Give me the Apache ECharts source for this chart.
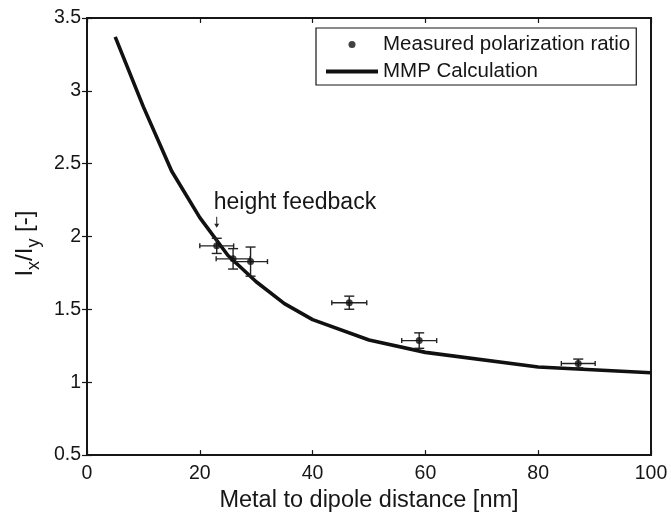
<!DOCTYPE html>
<html><head><meta charset="utf-8">
<script src="https://cdn.jsdelivr.net/npm/echarts@6/dist/echarts.min.js"></script>
<style>html,body{margin:0;padding:0;background:#fff}#c{width:671px;height:518px}</style>
</head><body><div id="c"></div>
<script>
// ---- data ----
const measName = 'Measured polarization ratio';
const calcName = 'MMP Calculation';
const measX = [23, 25.9, 29, 46.5, 58.9, 87.1];
const measY = [1.936, 1.847, 1.828, 1.546, 1.286, 1.129];
const measXErr = [3, 3, 3, 3.1, 3.1, 3];
const measYErr = [0.052, 0.07, 0.1, 0.045, 0.053, 0.03];
const calcX = [5, 10, 15, 20, 25, 30, 35, 40, 50, 60, 80, 100];
const calcY = [3.37, 2.89, 2.45, 2.13, 1.87, 1.69, 1.54, 1.43, 1.29, 1.205, 1.105, 1.065];
const annotText = 'height feedback';
const annotX = [23];
const annotY = [2.06];
const xTickVals = [0, 20, 40, 60, 80, 100];
const yTickVals = [0.5, 1, 1.5, 2, 2.5, 3, 3.5];

const FONT = '"Liberation Sans", Arial, Helvetica, sans-serif';
const INK = '#161616';
const chart = echarts.init(document.getElementById('c'), null, {renderer: 'canvas'});

function tickAxisCommon(min, max, interval) {
  return {
    type: 'value', min: min, max: max, interval: interval,
    axisLine: {show: false},
    axisTick: {show: true, inside: true, length: 5, lineStyle: {color: INK, width: 1.2}},
    splitLine: {show: false}
  };
}

function renderErr(params, api) {
  const x = api.value(0), y = api.value(1), xe = api.value(2), ye = api.value(3);
  const l = api.coord([x - xe, y]), r = api.coord([x + xe, y]);
  const t = api.coord([x, y + ye]), b = api.coord([x, y - ye]);
  const st = {stroke: '#222', lineWidth: 1.4};
  const hc = 2.5, vc = 5;
  const ln = (x1, y1, x2, y2) => ({type: 'line', shape: {x1, y1, x2, y2}, style: st});
  return {type: 'group', children: [
    ln(l[0], l[1], r[0], r[1]),
    ln(l[0], l[1] - hc, l[0], l[1] + hc),
    ln(r[0], r[1] - hc, r[0], r[1] + hc),
    ln(t[0], t[1], b[0], b[1]),
    ln(t[0] - vc, t[1], t[0] + vc, t[1]),
    ln(b[0] - vc, b[1], b[0] + vc, b[1])
  ]};
}

function renderAnnot(params, api) {
  const p = api.coord([api.value(0), api.value(1)]);
  return {type: 'group', children: [
    {type: 'line', shape: {x1: p[0], y1: p[1] - 11, x2: p[0], y2: p[1] - 3}, style: {stroke: '#222', lineWidth: 1}},
    {type: 'polygon', shape: {points: [[p[0] - 2.5, p[1] - 4], [p[0] + 2.5, p[1] - 4], [p[0], p[1]]]}, style: {fill: '#222'}},
    {type: 'text', x: p[0] - 3, y: p[1] - 14, style: {text: annotText, font: '23px ' + FONT, fill: INK, textAlign: 'left', textVerticalAlign: 'bottom'}}
  ]};
}

const option = {
  animation: false,
  backgroundColor: '#fff',
  grid: {left: 86, right: 20, top: 18, bottom: 54, show: true, borderColor: INK, borderWidth: 2, backgroundColor: 'transparent'},
  legend: {
    left: 316, top: 28, orient: 'vertical',
    padding: [6, 6, 3, 10], itemGap: 6, itemWidth: 52, itemHeight: 7,
    borderColor: INK, borderWidth: 1.2, backgroundColor: '#fff',
    textStyle: {fontFamily: FONT, fontSize: 20.5, color: INK},
    data: [
      {name: measName, icon: 'circle', itemStyle: {color: '#111'}},
      {name: calcName, icon: 'path://M0,0H52V4H0Z', itemStyle: {color: '#111', borderWidth: 0}}
    ]
  },
  xAxis: [
    Object.assign(tickAxisCommon(xTickVals[0], xTickVals[xTickVals.length - 1], 20), {
      position: 'bottom',
      axisLabel: {show: true, margin: 9, fontFamily: FONT, fontSize: 19.5, color: INK},
      name: 'Metal to dipole distance [nm]', nameLocation: 'middle', nameGap: 28,
      nameTextStyle: {fontFamily: FONT, fontSize: 23.5, color: INK}
    }),
    Object.assign(tickAxisCommon(xTickVals[0], xTickVals[xTickVals.length - 1], 20), {
      position: 'top', axisLabel: {show: false}
    })
  ],
  yAxis: [
    Object.assign(tickAxisCommon(yTickVals[0], yTickVals[yTickVals.length - 1], 0.5), {
      position: 'left',
      axisLabel: {show: true, margin: 6, fontFamily: FONT, fontSize: 19.5, color: INK},
      name: '{m|I}{s|x}{m|/I}{s|y}{m| [-]}', nameLocation: 'middle', nameGap: 42, nameRotate: 90,
      nameTextStyle: {
        padding: [0, 14, 0, 0],
        rich: {
          m: {fontFamily: FONT, fontSize: 24, color: INK, lineHeight: 24, verticalAlign: 'top'},
          s: {fontFamily: FONT, fontSize: 18, color: INK, lineHeight: 18, padding: [17, 0, 0, 0]}
        }
      }
    }),
    Object.assign(tickAxisCommon(yTickVals[0], yTickVals[yTickVals.length - 1], 0.5), {
      position: 'right', axisLabel: {show: false}
    })
  ],
  series: [
    {
      name: calcName, type: 'line', xAxisIndex: 0, yAxisIndex: 0,
      data: calcX.map((x, i) => [x, calcY[i]]),
      symbol: 'none', showSymbol: false, smooth: false,
      lineStyle: {color: '#111', width: 3.6}, itemStyle: {color: '#111'}, z: 3
    },
    {
      name: 'errorbars', type: 'custom', xAxisIndex: 0, yAxisIndex: 0,
      renderItem: renderErr,
      data: measX.map((x, i) => [x, measY[i], measXErr[i], measYErr[i]]),
      encode: {x: 0, y: 1}, z: 4
    },
    {
      name: measName, type: 'scatter', xAxisIndex: 0, yAxisIndex: 0,
      data: measX.map((x, i) => [x, measY[i]]),
      symbol: 'circle', symbolSize: 7, itemStyle: {color: '#111'}, z: 5
    },
    {
      name: 'annotation', type: 'custom', xAxisIndex: 0, yAxisIndex: 0,
      renderItem: renderAnnot,
      data: annotX.map((x, i) => [x, annotY[i]]),
      encode: {x: 0, y: 1}, z: 6, silent: true
    }
  ]
};
chart.setOption(option);
</script>
</body></html>
